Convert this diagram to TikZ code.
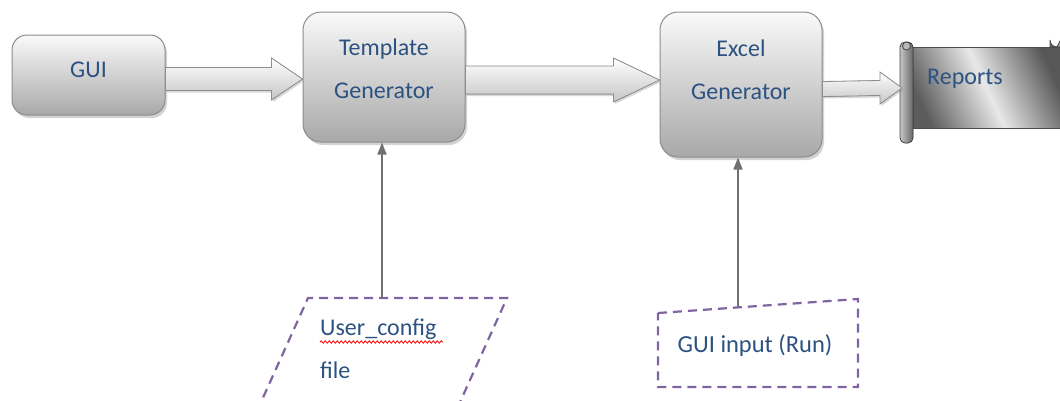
\documentclass[tikz,border=0pt]{standalone}
\usepackage{fontspec}
\setmainfont{Carlito}
\usetikzlibrary{shadows,calc,arrows.meta,decorations.pathmorphing}

\definecolor{labelblue}{RGB}{44,82,130}
\definecolor{boxedge}{RGB}{140,140,140}
\definecolor{dashpurple}{RGB}{128,100,162}
\definecolor{linkgray}{RGB}{112,112,112}

\tikzset{
  stagebox/.style={draw=boxedge, line width=1pt, rounded corners=18pt,
    top color=gray!4, bottom color=gray!68,
    drop shadow={opacity=.35, shadow xshift=2pt, shadow yshift=-3pt},
    inner sep=0pt},
  boxlabel/.style={text=labelblue, font=\fontsize{24}{43}\selectfont,
    align=center, inner sep=0pt},
  plainlabel/.style={text=labelblue, font=\fontsize{24}{29}\selectfont,
    inner sep=0pt},
  fatarrow/.style={draw=boxedge, line width=.8pt, top color=white,
    bottom color=gray!45,
    drop shadow={opacity=.3, shadow xshift=1.5pt, shadow yshift=-2pt}},
  feed/.style={draw=linkgray, line width=1.6pt,
    -{Triangle[length=12pt,width=9pt]}},
  inputedge/.style={draw=dashpurple, line width=2.2pt,
    dash pattern=on 9pt off 6pt},
}

% block arrow: #1 start, #2 tip, #3 half shaft, #4 half head, #5 head length
\newcommand\widearrow[5]{%
  \filldraw[fatarrow] ($(#1)+(0,-#3)$) -- ($(#2)+(-#5,-#3)$)
    -- ($(#2)+(-#5,-#4)$) -- (#2) -- ($(#2)+(-#5,#4)$)
    -- ($(#2)+(-#5,#3)$) -- ($(#1)+(0,#3)$) -- cycle;}

\begin{document}
\begin{tikzpicture}[x=1pt,y=-1pt]
\useasboundingbox (0,0) rectangle (1060,400);

% processing stages
\node[stagebox, rounded corners=15pt, minimum width=153pt, minimum height=80pt] (gui) at (88.5,75) {};
\node[stagebox, minimum width=162pt, minimum height=130pt] (tmpl) at (384,77) {};
\node[stagebox, minimum width=162pt, minimum height=145pt] (excel) at (741,84.5) {};

\node[boxlabel] (guitext) at (88.5,70) {GUI};
\node[boxlabel] (tmpltext) at (384,68.5) {Template\\Generator};
\node[boxlabel] (exceltext) at (741,69.5) {Excel\\Generator};

% report scroll
\filldraw[draw=gray!60!black, line width=.8pt,
  left color=gray!72!black, right color=gray!68!black, middle color=gray!18,
  shading angle=115]
  (908,47) -- (1064,47) -- (1064,128) -- (908,128) -- cycle;
\filldraw[draw=gray!60!black, line width=.8pt, left color=gray!75!black,
  right color=gray!45]
  (1050,47) -- (1050,40) arc[start angle=180, end angle=90, radius=7] -- (1064,33) -- (1064,47) -- cycle;
\filldraw[draw=gray!55!black, line width=.8pt, rounded corners=5pt,
  left color=gray!45, right color=gray!80!black]
  (900,42) rectangle (913,143);
\filldraw[draw=gray!55!black, line width=.8pt, fill=gray!55] (906.5,46) circle[radius=4];
\coordinate (reports) at (902,88);
\node[plainlabel, anchor=base west] (reportstext) at (927,84) {Reports};

% main flow
\coordinate (a1s) at (gui.east |- 0,79);
\coordinate (a1e) at (tmpl.west |- 0,79);
\widearrow{a1s}{a1e}{11.5}{21}{31}
\coordinate (a2s) at (tmpl.east |- 0,80);
\coordinate (a2e) at (excel.west |- 0,80);
\widearrow{a2s}{a2e}{14}{22}{46}
\coordinate (a3s) at (excel.east |- 0,89);
\widearrow{a3s}{reports}{7.5}{16}{22}

% configuration input
\draw[inputedge] (257,411) -- (308,298) -- (507,298) -- (456,411);
\node[plainlabel, anchor=base west] (cfgtext) at (320,335) {User\_config};
\node[plainlabel, anchor=base west] (cfgfile) at (320,378) {file};
\draw[red, line width=.8pt, decorate,
  decoration={snake, amplitude=1.2pt, segment length=4pt}] (320,342) -- (443,342);
\coordinate (cfgtop) at (382,298);
\draw[feed] (cfgtop) -- (cfgtop |- tmpl.south);

% run input
\draw[inputedge] (658,313) -- (858,299) -- (858,387) -- (658,387) -- cycle;
\node[plainlabel, font=\fontsize{24.5}{29}\selectfont, anchor=base] (runtext) at (755,352) {GUI input (Run)};
\coordinate (runtop) at (738,307.4);
\draw[feed] (runtop) -- (runtop |- excel.south);
\end{tikzpicture}
\end{document}
